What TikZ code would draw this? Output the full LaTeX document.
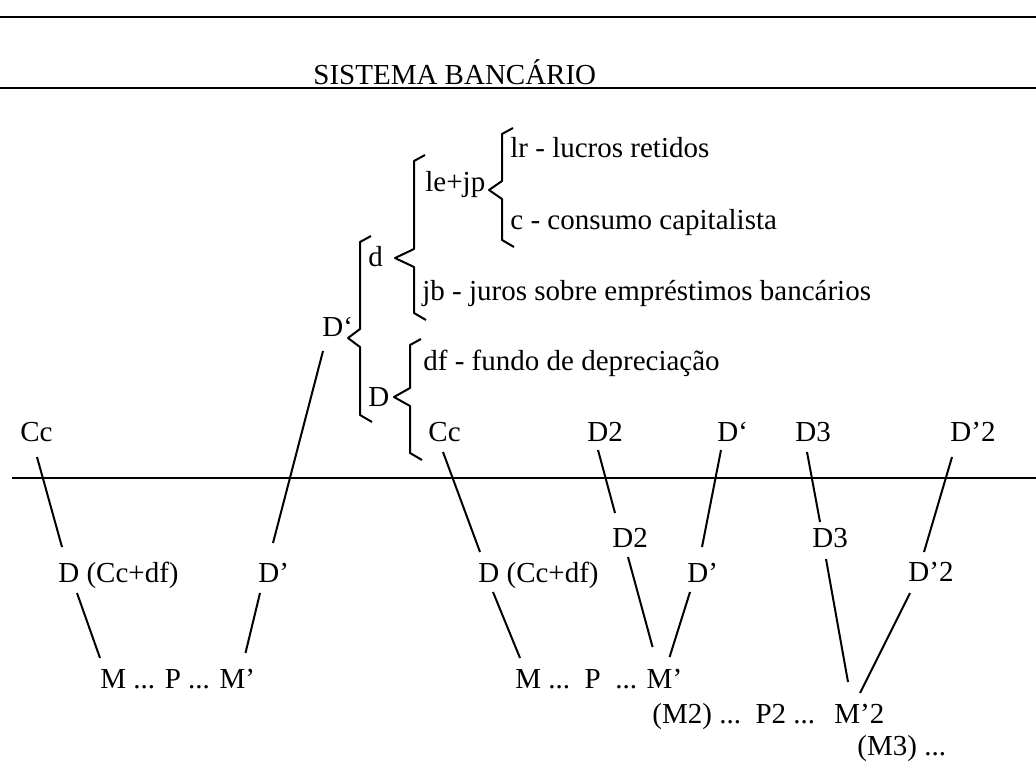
\documentclass[tikz,border=0pt]{standalone}
\usepackage{fontspec}
\setmainfont{Liberation Serif}
\usepackage{tikz}
\usetikzlibrary{calc}

% hand drawn brace: x, top, tip y, bottom, tip x
\newcommand{\hookbrace}[5]{%
  \draw[bracepath] (#1+11,#2-6) -- (#1,#2) -- (#1,#3-9) -- (#5,#3) -- (#1,#3+9) -- (#1,#4) -- (#1+12,#4+7);}

\begin{document}
\begin{tikzpicture}[
  x=0.5pt, y=-0.5pt,
  font=\fontsize{14.5}{17}\selectfont,
  lbl/.style={anchor=base west, inner sep=0pt},
  link/.style={line width=1pt},
  rule/.style={line width=0.8pt},
  bracepath/.style={line width=1pt, line join=round},
]
\useasboundingbox (0,0) rectangle (1036,761);

% rules and title
\draw[rule] (0,17) -- (1036,17);
\node[lbl] (title) at (313,84) {SISTEMA BANCÁRIO};
\draw[rule] (0,88) -- (1036,88);
\draw[rule] (12,478) -- (1036,478);

% breakdown of D`
\node[lbl] (lr) at (510,157) {lr - lucros retidos};
\node[lbl] (lejp) at (425,191) {le+jp};
\node[lbl] (cons) at (510,229) {c - consumo capitalista};
\node[lbl] (dsm) at (368,266) {d};
\node[lbl] (jb) at (422,300) {jb - juros sobre empréstimos bancários};
\node[lbl] (dlinha) at (322,336) {D‘};
\node[lbl] (df) at (423,370) {df - fundo de depreciação};
\node[lbl] (dbr) at (368,406) {D};
\node[lbl] (ccbr) at (428,441) {Cc};

\hookbrace{502}{134}{190}{240}{489}
\hookbrace{414}{161}{258}{313}{395}
\hookbrace{360}{242}{338}{415}{348}
\hookbrace{410}{345}{397}{453}{394}

% top row
\node[lbl] (cc1) at (20,441) {Cc};
\node[lbl] (dtop2) at (587,441) {D2};
\node[lbl] (dltop) at (717,441) {D‘};
\node[lbl] (dtop3) at (795,441) {D3};
\node[lbl] (dl2top) at (950,441) {D’2};

% lower rows
\node[lbl] (d2) at (612,547) {D2};
\node[lbl] (d3) at (812,547) {D3};
\node[lbl] (dcc1) at (58,582) {D (Cc+df)};
\node[lbl] (dl1) at (258,582) {D’};
\node[lbl] (dcc2) at (478,582) {D (Cc+df)};
\node[lbl] (dl2) at (687,582) {D’};
\node[lbl] (dl22) at (908,581) {D’2};
\node[lbl] (mpm1) at (100,688) {M ... P ... M’};
\node[lbl] (mpm2) at (515,688) {M ...\ \ P \ ... M’};
\node[lbl] (mpm3) at (652,723) {(M2) ...\ \ P2 ...\ \ \,M’2};
\node[lbl] (m3) at (857,755) {(M3) ...};

% links
\draw[link] ($(cc1.base west)+(17,16)$) -- ($(dcc1.base west)+(4,-35)$);
\draw[link] ($(dlinha.base west)+(1,15)$) -- ($(dl1.base west)+(15,-39)$);
\draw[link] ($(dcc1.base west)+(19,11)$) -- ($(mpm1.base west)+(0,-30)$);
\draw[link] ($(dl1.base west)+(2,11)$) -- ($(mpm1.base east)+(-10,-35)$);
\draw[link] ($(ccbr.base west)+(15,11)$) -- ($(dcc2.base west)+(2,-30)$);
\draw[link] ($(dtop2.base west)+(11,9)$) -- ($(d2.base west)+(3,-34)$);
\draw[link] ($(dltop.base west)+(4,9)$) -- ($(dl2.base west)+(15,-35)$);
\draw[link] ($(dtop3.base west)+(12,11)$) -- ($(d3.base west)+(8,-25)$);
\draw[link] ($(dl2top.base west)+(2,16)$) -- ($(dl22.base west)+(16,-29)$);
\draw[link] ($(dcc2.base west)+(15,10)$) -- ($(mpm2.base west)+(5,-30)$);
\draw[link] ($(d2.base west)+(16,10)$) -- ($(mpm2.base east)+(-30,-41)$);
\draw[link] ($(dl2.base west)+(3,10)$) -- ($(mpm2.base east)+(-13,-31)$);
\draw[link] ($(d3.base west)+(14,12)$) -- ($(mpm3.base west)+(196,-41)$);
\draw[link] ($(dl22.base west)+(2,12)$) -- ($(mpm3.base west)+(208,-30)$);
\end{tikzpicture}
\end{document}
